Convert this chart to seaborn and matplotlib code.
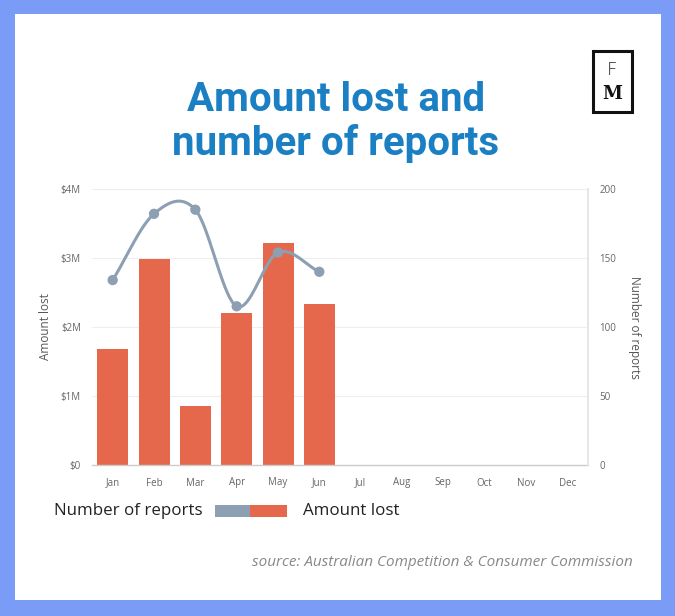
import numpy as np
import pandas as pd
import matplotlib
matplotlib.use("Agg")
import matplotlib.pyplot as plt
from matplotlib.patches import Rectangle
import seaborn as sns

months = ["Jan", "Feb", "Mar", "Apr", "May", "Jun", "Jul", "Aug", "Sep", "Oct", "Nov", "Dec"]
amount_lost = [1.68, 2.98, 0.86, 2.20, 3.22, 2.34]          # $ millions, Jan-Jun
num_reports = [134, 182, 185, 115, 154, 140]                  # Jan-Jun
left_ticks = [0, 1, 2, 3, 4]
left_ticklabels = ["$0", "$1M", "$2M", "$3M", "$4M"]
right_ticks = [0, 50, 100, 150, 200]

BAR = "#e5684c"
LINE = "#8c9fb3"
BORDER = "#7a9bf6"

sns.set_theme(style="white")
plt.rcParams["font.family"] = ["Open Sans", "DejaVu Sans"]

W, H = 675, 616
fig = plt.figure(figsize=(W / 100, H / 100), dpi=100, facecolor=BORDER)
fig.patches.append(Rectangle((15 / W, 1 - 600 / H), 646 / W, 586 / H,
                             transform=fig.transFigure, facecolor="white",
                             edgecolor="none", zorder=-10))

ax = fig.add_axes([92 / W, 1 - 465 / H, 496 / W, 276 / H])
ax.set_facecolor("none")

df = pd.DataFrame({"month": months[:len(amount_lost)], "amount": amount_lost})
sns.barplot(data=df, x="month", y="amount", order=months, color=BAR,
            saturation=1, width=0.75, ax=ax, zorder=2, linewidth=0)
ax.set_ylim(0, 4)
ax.set_xlim(-0.5, len(months) - 0.5)
ax.set_yticks(left_ticks)
ax.set_yticklabels(left_ticklabels)
ax.yaxis.grid(True, color="#eeeeee", linewidth=0.8)
ax.set_axisbelow(True)
ax.tick_params(axis="both", length=0, labelsize=7, labelcolor="#666666")
ax.tick_params(axis="y", pad=8)
ax.tick_params(axis="x", pad=9)
ax.set_xlabel("")
ax.set_ylabel("Amount lost", fontsize=8.5, color="#555555", labelpad=6)
for s in ["top", "left", "right"]:
    ax.spines[s].set_visible(False)
ax.spines["bottom"].set_color("#cccccc")
ax.spines["bottom"].set_linewidth(1)

ax2 = ax.twinx()
ax2.set_ylim(0, 200)
ax2.set_yticks(right_ticks)
ax2.tick_params(axis="y", length=0, labelsize=7, labelcolor="#666666", pad=8)
ax2.set_ylabel("Number of reports", fontsize=8.5, color="#555555",
               rotation=270, labelpad=18)
for s in ["top", "left", "bottom"]:
    ax2.spines[s].set_visible(False)
ax2.spines["right"].set_color("#e3e3e3")
ax2.grid(False)

# Catmull-Rom spline through the report points
xs = np.arange(len(num_reports), dtype=float)
ys = np.array(num_reports, dtype=float)
n = len(ys)
m = np.zeros(n)
m[1:-1] = (ys[2:] - ys[:-2]) / 2
m[0] = ys[1] - ys[0]
m[-1] = ys[-1] - ys[-2]
cx, cy = [], []
t = np.linspace(0, 1, 40)
h00 = 2 * t**3 - 3 * t**2 + 1
h10 = t**3 - 2 * t**2 + t
h01 = -2 * t**3 + 3 * t**2
h11 = t**3 - t**2
for i in range(n - 1):
    cx.append(xs[i] + t)
    cy.append(h00 * ys[i] + h10 * m[i] + h01 * ys[i + 1] + h11 * m[i + 1])
ax2.plot(np.concatenate(cx), np.concatenate(cy), color=LINE, lw=2.2,
         solid_capstyle="round", zorder=3)
pts = pd.DataFrame({"x": xs, "reports": ys})
sns.scatterplot(data=pts, x="x", y="reports", ax=ax2, color=LINE, s=55,
                edgecolor="none", zorder=4, legend=False)
ax2.set_xlabel("")
ax2.set_xlim(-0.5, len(months) - 0.5)

# Title
tcol = "#1b7fc4"
fig.text(336 / W, 1 - 100 / H, "Amount lost and", ha="center", va="center",
         fontsize=29, fontweight="bold", color=tcol, family=["Roboto", "DejaVu Sans"])
fig.text(336 / W, 1 - 143 / H, "number of reports", ha="center", va="center",
         fontsize=29, fontweight="bold", color=tcol, family=["Roboto", "DejaVu Sans"])

# Logo
fig.patches.append(Rectangle((593 / W, 1 - 112 / H), 39 / W, 61 / H,
                             transform=fig.transFigure, facecolor="white",
                             edgecolor="#111111", linewidth=2.2, zorder=5))
fig.text(612 / W, 1 - 70 / H, "F", ha="center", va="center", fontsize=13,
         color="#222222", fontweight="light", family=["DejaVu Sans"], zorder=6)
fig.text(612 / W, 1 - 94 / H, "M", ha="center", va="center", fontsize=13,
         color="#111111", fontweight="bold", family=["DejaVu Serif"], zorder=6)

# Legend
fig.text(54 / W, 1 - 511 / H, "Number of reports", ha="left", va="center",
         fontsize=12.2, color="#222222")
fig.patches.append(Rectangle((215 / W, 1 - 517 / H), 35 / W, 12 / H,
                             transform=fig.transFigure, facecolor=LINE,
                             edgecolor="none", zorder=5))
fig.patches.append(Rectangle((250 / W, 1 - 517 / H), 37 / W, 12 / H,
                             transform=fig.transFigure, facecolor=BAR,
                             edgecolor="none", zorder=5))
fig.text(303 / W, 1 - 511 / H, "Amount lost", ha="left", va="center",
         fontsize=12.2, color="#222222")

# Source
fig.text(633 / W, 1 - 563 / H, "source: Australian Competition & Consumer Commission",
         ha="right", va="center", fontsize=11, style="italic", color="#888888")

fig.savefig("out.png", dpi=100, facecolor=BORDER)
